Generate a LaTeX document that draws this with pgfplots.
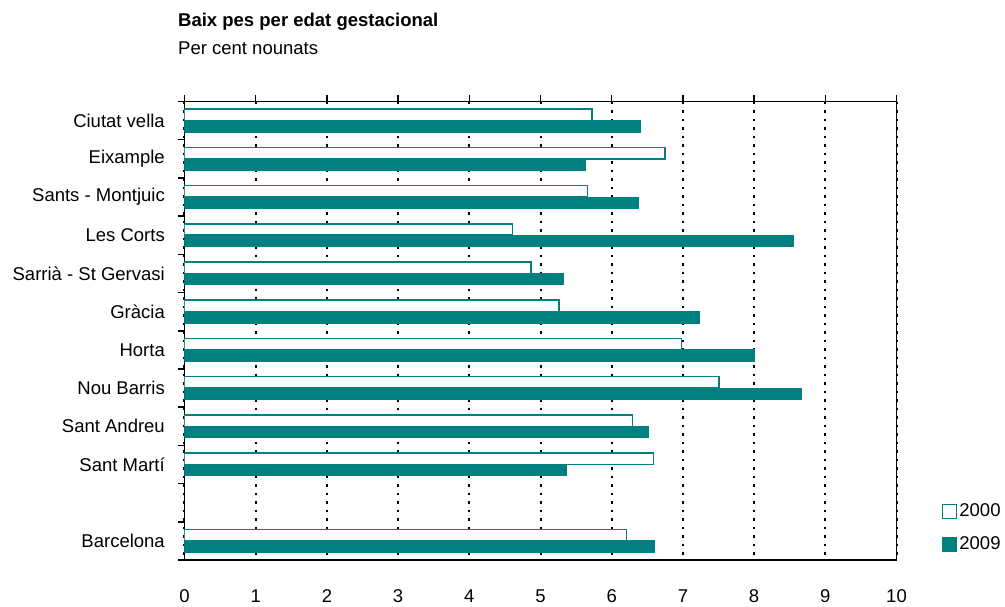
\documentclass[border=0pt]{standalone}
\usepackage{fontspec}
\setmainfont{Liberation Sans}
\usepackage{pgfplots}
\pgfplotsset{compat=1.18}
\definecolor{tl}{RGB}{0,128,128}
\begin{document}
\begin{tikzpicture}
\fontsize{18.5pt}{22pt}\selectfont
\begin{axis}[
  at={(184.5pt,46pt)}, anchor=south west,
  scale only axis, width=712pt, height=458.5pt,
  xbar=0pt, bar width=0.3,
  xmin=0, xmax=10, ymin=-0.5, ymax=11.5, y dir=reverse,
  xtick={0,...,10}, xtick pos=right, xticklabel pos=left,
  /pgf/number format/assume math mode=true,
  tick align=outside, major tick length=7pt,
  ytick={-0.5,0.5,...,11.5}, yticklabels={}, ytick pos=left,
  extra y ticks={0,1,2,3,4,5,6,7,8,9,11},
  extra y tick labels={Ciutat vella,Eixample,Sants - Montjuic,Les Corts,Sarrià - St Gervasi,Gràcia,Horta,Nou Barris,Sant Andreu,Sant Martí,Barcelona},
  extra y tick style={major tick length=0pt, yticklabel style={inner sep=0pt, anchor=east, xshift=-19.5pt}},
  xticklabel style={inner sep=0pt, anchor=base, yshift=-35pt},
  axis line style={black, line width=1.5pt},
  tick style={black, line width=1.5pt},
  xmajorgrids,
  major grid style={black, line width=2pt, dash pattern=on 2.5pt off 6pt},
  legend style={at={(1.0635,0.07)}, anchor=west, draw=none, fill=none, inner sep=0pt, row sep=13pt, font=\fontsize{18.5pt}{22pt}\selectfont},
  legend cell align=left,
  legend image code/.code={\draw[#1, line width=1.5pt] (0pt,-7pt) rectangle (14pt,7pt);},
]
\addplot[draw=tl, fill=white, line width=1.5pt] coordinates {(5.72,0) (6.75,1) (5.66,2) (4.61,3) (4.87,4) (5.26,5) (6.98,6) (7.51,7) (6.29,8) (6.59,9) (6.21,11)};
\addplot[draw=tl, fill=tl, line width=1pt] coordinates {(6.40,0) (5.63,1) (6.38,2) (8.55,3) (5.32,4) (7.24,5) (8.00,6) (8.67,7) (6.52,8) (5.36,9) (6.60,11)};
\legend{2000,2009}
\end{axis}
\draw[black, line width=1.5pt] (896.5pt,46pt) -- (896.5pt,504.5pt);
\node[anchor=base west, inner sep=0pt, font=\bfseries] at (178pt,579.3pt) {Baix pes per edat gestacional};
\node[anchor=base west, inner sep=0pt] at (178pt,551pt) {Per cent nounats};
\pgfresetboundingbox
\path (0pt,0pt) rectangle (1005pt,606pt);
\end{tikzpicture}
\end{document}
